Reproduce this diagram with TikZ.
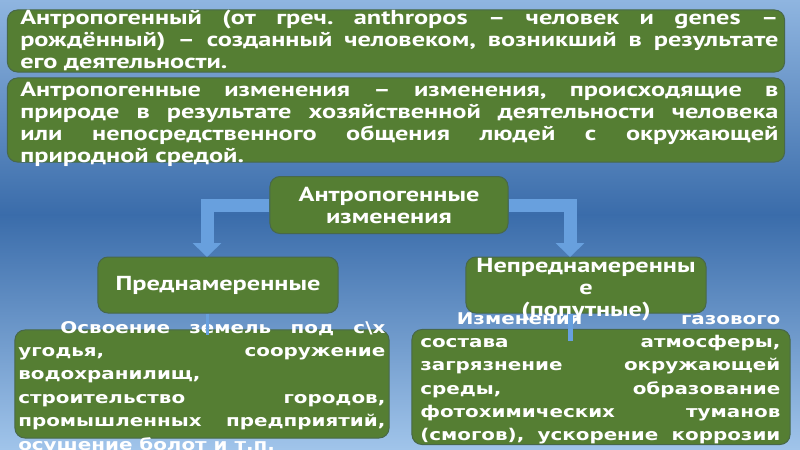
\documentclass[tikz,border=0pt]{standalone}
\usepackage{fontspec}
\setmainfont{PT Sans}
\newfontfamily\headfont[FakeStretch=1.3]{PT Sans}
\newfontfamily\bodyfont[FakeStretch=1.23]{DejaVu Sans}
\usetikzlibrary{arrows.meta}
\definecolor{skytop}{RGB}{143,181,224}
\definecolor{skymid}{RGB}{58,108,170}
\definecolor{skybot}{RGB}{160,196,234}
\definecolor{boxgreen}{RGB}{85,126,51}
\definecolor{boxedge}{RGB}{72,104,74}
\definecolor{arrowblue}{RGB}{104,160,222}
\def\px{0.7113pt}
\hyphenpenalty=10000
\exhyphenpenalty=10000
\frenchspacing
\begin{document}
\begin{tikzpicture}[
    x=0.025cm, y=-0.025cm,
    panel/.style={rectangle, rounded corners=10*\px, fill=boxgreen, draw=boxedge, line width=1*\px, inner sep=0pt},
    headtext/.style={inner sep=0pt, text=white, align=justify, font=\headfont\bfseries\fontsize{14.4pt}{15.65pt}\selectfont},
    bodytext/.style={inner sep=0pt, text=white, align=justify, font=\bodyfont\bfseries\fontsize{11.5pt}{16.6pt}\selectfont},
    bigarrow/.style={arrowblue, line width=13*\px, line join=miter, -{Triangle[width=28*\px, length=14*\px]}},
    link/.style={arrowblue, line width=3*\px}
]
    \useasboundingbox (0,0) rectangle (800,449);
    % Background
    \shade[top color=skytop, bottom color=skymid] (0,0) rectangle (800,215);
    \shade[top color=skymid, bottom color=skybot] (0,214) rectangle (800,449);

    % Definitions
    \node[panel, minimum width=777*\px, minimum height=62*\px] (term) at (396,41) {};
    \node[headtext, text width=758*\px, anchor=north west] (term_text) at (20,10) {Антропогенный (от греч. anthropos – человек и genes –\linebreak рождённый) – созданный человеком, возникший в результате\linebreak его деятельности.};
    \node[panel, minimum width=777*\px, minimum height=84*\px] (defn) at (396,120) {};
    \node[headtext, text width=758*\px, anchor=north west] (defn_text) at (20,82) {Антропогенные изменения – изменения, происходящие в\linebreak природе в результате хозяйственной деятельности человека\linebreak или непосредственного общения людей с окружающей\linebreak природной средой.};

    % Lower boxes
    \node[panel, minimum width=374*\px, minimum height=108*\px] (osv) at (202,384) {};
    \node[bodytext, text width=367*\px, anchor=north west] (osv_text) at (18,321) {\hspace*{30pt}Освоение земель под с\textbackslash х\linebreak угодья, сооружение\linebreak водохранилищ,\newline строительство городов,\linebreak промышленных предприятий,\linebreak осушение болот и т.п.};
    \node[panel, minimum width=378*\px, minimum height=115*\px] (izm) at (601,387) {};
    \node[bodytext, text width=360*\px, anchor=north west] (izm_text) at (420,312) {\hspace*{26pt}Изменения газового\linebreak состава атмосферы,\linebreak загрязнение окружающей\linebreak среды, образование\linebreak фотохимических туманов\linebreak (смогов), ускорение коррозии\linebreak};

    % Tree
    \node[panel, minimum width=238*\px, minimum height=57*\px] (root) at (389,205) {};
    \node[headtext, align=center] (root_text) at (root) {Антропогенные\\изменения};
    \node[panel, minimum width=240*\px, minimum height=56*\px] (pred) at (218,285) {};
    \node[headtext, align=center] (pred_text) at (pred) {Преднамеренные};
    \node[panel, minimum width=240*\px, minimum height=56*\px] (nepred) at (586,285) {};
    \node[headtext, align=center, anchor=north] (nepred_text) at (586,258) {Непреднамеренны\\е\\(попутные)};

    % Connections
    \coordinate (pred_in) at (207,257);
    \coordinate (nepred_in) at (570,257);
    \draw[bigarrow] (root.west) -| (pred_in);
    \draw[bigarrow] (root.east) -| (nepred_in);
    \draw[link] (pred.south -| pred_in) -- ([yshift=-6*\px]osv.north -| pred_in);
    \draw[link, line width=5*\px] (nepred.south -| nepred_in) -- ([yshift=-12*\px]izm.north -| nepred_in);
\end{tikzpicture}
\end{document}
